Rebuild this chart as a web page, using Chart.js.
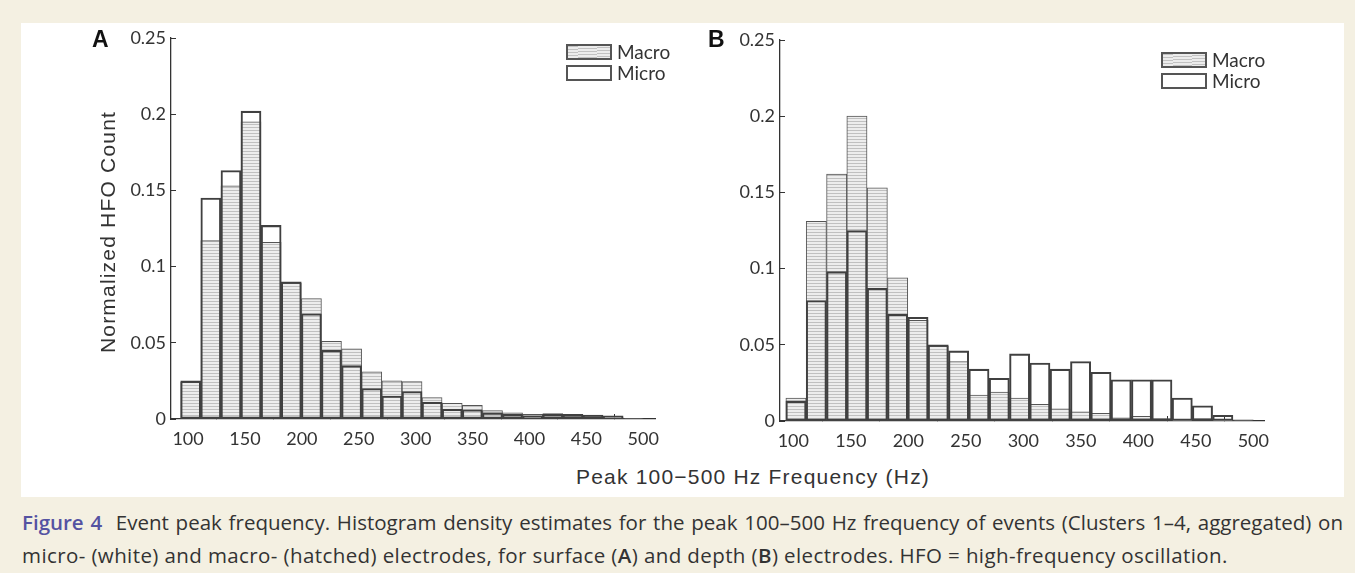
<!DOCTYPE html>
<html>
<head>
<meta charset="utf-8">
<script src="https://cdn.jsdelivr.net/npm/chart.js@4.4.1/dist/chart.umd.min.js"></script>
<style>
  body { margin: 0; width: 1355px; height: 573px; background: #f4f0e2; position: relative; overflow: hidden; font-family: Lato, sans-serif; }
  #fig { position: absolute; left: 21px; top: 23px; width: 1323px; height: 474px; background: #fff; }
  canvas { position: absolute; }
  .panel { position: absolute; font: bold 23px "Liberation Sans", Arial, sans-serif; color: #111; }
  .axt { position: absolute; font: 21px "Liberation Sans", Arial, sans-serif; color: #333; letter-spacing: 1.2px; white-space: nowrap; }
  .leg { position: absolute; font: 19px Lato, sans-serif; color: #333; line-height: 21px; }
  .leg .row { display: flex; align-items: center; height: 21px; }
  .leg .box { width: 42px; height: 12px; border: 2px solid #555; margin-right: 5px; background: #fff; }
  .leg .box.h { background: repeating-linear-gradient(177deg, #c2c2c2 0 1px, #ececec 1px 3px); }
  .cap { position: absolute; left: 22px; font: 20.5px "Open Sans", sans-serif; color: #333; line-height: 20px; white-space: nowrap; }
  .cap b { color: #5553a2; font-weight: 600; }
</style>
</head>
<body>
<div id="fig"></div>
<canvas id="chartA" width="580" height="430" style="left:100px; top:25px;"></canvas>
<canvas id="chartB" width="580" height="432" style="left:709px; top:25px;"></canvas>

<div class="panel" style="left:92px; top:26px;">A</div>
<div class="panel" style="left:708px; top:26px;">B</div>

<div class="axt" style="left:108px; top:232px; transform: translate(-50%, -50%) rotate(-90deg);">Normalized HFO Count</div>
<div class="axt" style="left:753px; top:477px; transform: translate(-50%, -50%);">Peak 100−500 Hz Frequency (Hz)</div>

<div class="leg" style="left:566px; top:41px;">
  <div class="row"><div class="box h"></div>Macro</div>
  <div class="row"><div class="box"></div>Micro</div>
</div>
<div class="leg" style="left:1161px; top:49px;">
  <div class="row"><div class="box h"></div>Macro</div>
  <div class="row"><div class="box"></div>Micro</div>
</div>

<div class="cap" style="top:512px; width:1321px; text-align: justify; text-align-last: justify;"><b>Figure 4</b>&nbsp; Event peak frequency. Histogram density estimates for the peak 100–500 Hz frequency of events (Clusters 1–4, aggregated) on</div>
<div class="cap" style="top:545px; letter-spacing: 0.4px;">micro- (white) and macro- (hatched) electrodes, for surface (<b style="color:#333">A</b>) and depth (<b style="color:#333">B</b>) electrodes. HFO = high-frequency oscillation.</div>

<script>
// histogram bin centres (Hz), shared by both panels
const binCenters = [102.3, 120.0, 137.7, 155.3, 173.0, 190.7, 208.4, 226.0, 243.7, 261.4, 279.1, 296.8,
                    314.4, 332.1, 349.8, 367.5, 385.1, 402.8, 420.5, 438.2, 455.8, 473.5, 491.2];

// A: surface electrodes
const macroA = [0.024, 0.117, 0.153, 0.195, 0.116, 0.089, 0.079, 0.051, 0.046, 0.031, 0.025, 0.0245,
                0.014, 0.0103, 0.009, 0.0055, 0.004, 0.003, 0.0035, 0.002, 0.002, 0.0015, 0.0003];
const microA = [0.025, 0.145, 0.163, 0.202, 0.127, 0.090, 0.069, 0.045, 0.035, 0.020, 0.015, 0.018,
                0.011, 0.0064, 0.006, 0.004, 0.003, 0.002, 0.003, 0.003, 0.0025, 0.002, 0.0005];

// B: depth electrodes
const macroB = [0.015, 0.131, 0.162, 0.200, 0.153, 0.094, 0.066, 0.049, 0.039, 0.017, 0.019, 0.015,
                0.011, 0.008, 0.006, 0.005, 0.002, 0.003, 0.0016, 0.0005, 0.0016, 0.0005, 0.0003];
const microB = [0.013, 0.079, 0.098, 0.125, 0.087, 0.070, 0.068, 0.050, 0.046, 0.034, 0.028, 0.044,
                0.038, 0.034, 0.039, 0.032, 0.027, 0.027, 0.027, 0.015, 0.010, 0.0037, 0.0007];

const xTicks = [100, 150, 200, 250, 300, 350, 400, 450, 500];
const yTicks = [0, 0.05, 0.1, 0.15, 0.2, 0.25];
const yTickLabels = ['0', '0.05', '0.1', '0.15', '0.2', '0.25'];

function hatch() {
    const c = document.createElement('canvas');
    c.width = 6; c.height = 3;
    const g = c.getContext('2d');
    g.fillStyle = '#ededed';
    g.fillRect(0, 0, 6, 3);
    g.fillStyle = '#c0c0c0';
    g.fillRect(0, 0, 6, 1);
    return g.createPattern(c, 'repeat');
}

function points(vals) {
    return binCenters.map((x, i) => ({ x: x, y: vals[i] }));
}

function makeChart(id, macro, micro, xMin, xMax, padTop) {
    const tickFont = { family: 'Lato', size: 18 };
    new Chart(document.getElementById(id), {
        type: 'bar',
        data: {
            datasets: [
                {
                    label: 'Micro',
                    data: points(micro),
                    backgroundColor: 'rgba(0,0,0,0)',
                    borderColor: '#404040',
                    borderWidth: 1.4,
                    grouped: false,
                    order: 1
                },
                {
                    label: 'Macro',
                    data: points(macro),
                    backgroundColor: hatch(),
                    borderColor: '#555',
                    borderWidth: 1,
                    grouped: false,
                    order: 2
                }
            ]
        },
        options: {
            responsive: false,
            animation: false,
            layout: { padding: { top: padTop, right: 25, bottom: 0, left: 0 } },
            datasets: { bar: { barPercentage: 1, categoryPercentage: 1, borderSkipped: false } },
            plugins: { legend: { display: false }, tooltip: { enabled: false } },
            scales: {
                x: {
                    type: 'linear',
                    min: xMin,
                    max: xMax,
                    offset: false,
                    grid: { drawOnChartArea: false, tickLength: -5, color: '#333' },
                    border: { color: '#333', width: 1.3 },
                    ticks: { padding: 14, color: '#333', font: tickFont, maxRotation: 0 },
                    afterBuildTicks: s => { s.ticks = xTicks.map(v => ({ value: v })); },
                    afterFit: s => { s.height = 36; s.paddingLeft = 0; s.paddingRight = 0; }
                },
                y: {
                    min: 0,
                    max: 0.25,
                    grid: { drawOnChartArea: false, tickLength: -5, color: '#333' },
                    border: { color: '#333', width: 1.3 },
                    ticks: { padding: 10, color: '#333', font: tickFont, callback: (v, i) => yTickLabels[i] },
                    afterBuildTicks: s => { s.ticks = yTicks.map(v => ({ value: v })); },
                    afterFit: s => { s.width = 71; s.paddingTop = 0; s.paddingBottom = 0; }
                }
            }
        }
    });
}

makeChart('chartA', macroA, microA, 85, 510.3, 13);
makeChart('chartB', macroB, microB, 88.4, 509.3, 15);
</script>
</body>
</html>
